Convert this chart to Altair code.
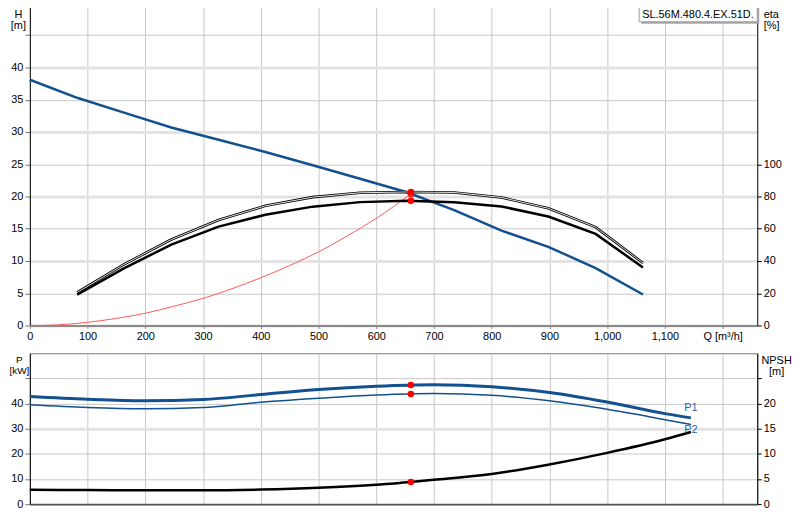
import pandas as pd
import altair as alt

MODEL = "SL.56M.480.4.EX.51D."

# pump curve (Q in m3/h)
q_h = [0, 82, 163, 245, 327, 408, 490, 572, 653, 735, 817, 898, 980, 1062]
head = [38.1, 35.3, 33.0, 30.7, 28.8, 26.9, 24.85, 22.75, 20.65, 17.9, 14.7, 12.2, 8.9, 4.8]

q_eta = [82, 163, 245, 327, 408, 490, 572, 653, 735, 817, 898, 980, 1062]
eta_a = [20.5, 37.9, 53.3, 65.4, 74.2, 79.6, 82.3, 82.8, 82.5, 79.4, 72.7, 61.0, 38.8]
eta_b = [19.1, 35.4, 50.2, 61.3, 68.7, 73.7, 76.5, 77.3, 76.4, 73.8, 67.6, 56.8, 36.0]

# system curve
q_sys = [0, 50, 100, 150, 200, 250, 300, 350, 400, 450, 500, 550, 600, 660]
h_sys = [0, 0.1, 0.5, 1.1, 1.9, 3.0, 4.2, 5.7, 7.4, 9.3, 11.4, 13.9, 16.6, 20.4]

# power and NPSH
q_pow = [0, 100, 200, 300, 400, 500, 600, 700, 800, 900, 1000, 1100, 1145]
p1 = [42.8, 41.7, 41.1, 41.6, 43.6, 45.6, 46.9, 47.5, 46.7, 44.4, 40.6, 36.0, 34.3]
p2 = [39.5, 38.4, 37.9, 38.4, 40.5, 42.1, 43.4, 44.0, 43.3, 41.1, 37.7, 33.6, 31.7]
npsh = [2.85, 2.8, 2.75, 2.75, 2.9, 3.25, 3.85, 4.85, 6.0, 7.9, 10.2, 12.9, 14.35]

# duty point
duty_q = 660
duty_h = 20.4
duty_eta = [82.8, 77.3]
duty_p = [47.4, 43.8]
duty_npsh = 4.4

BLUE = "#12508f"
GRID = "#c8c8c8"
FONT = "Liberation Sans"

x_dom = [0, 1260]
h_dom = [0, 50]
eta_dom = [0, 200]
p_dom = [0, 60]
npsh_dom = [0, 30]

top_w, top_h = 733, 325
bot_h = 152

x_top = alt.X('q:Q', scale=alt.Scale(domain=x_dom, nice=False, zero=False),
              axis=alt.Axis(values=list(range(0, 1201, 100)), title=None,
                            labelExpr="datum.value == 1200 ? 'Q [m³/h]' : format(datum.value, ',')",
                            grid=True, gridColor=GRID, domainColor='#8a8a8a', domainWidth=2,
                            tickColor='#8a8a8a', tickSize=3, labelPadding=2, labelFlush=False))
x_bot = alt.X('q:Q', scale=alt.Scale(domain=x_dom, nice=False, zero=False),
              axis=alt.Axis(values=list(range(0, 1201, 100)), title=None, labels=False, ticks=False,
                            grid=True, gridColor=GRID, domainColor='#555555', domainWidth=2))


def y_axis(field, dom, **kw):
    return alt.Y(field, scale=alt.Scale(domain=dom, nice=False, zero=False), **kw)


title_style = dict(titleAngle=0, titleBaseline='top', titleFontWeight='normal',
                   titleFontSize=11, titleLineHeight=11)

h_axis = alt.Axis(orient='left', values=list(range(0, 50, 5)),
                  labelExpr="datum.value > 40 ? '' : datum.label",
                  grid=True,
                  gridColor={"condition": {"test": "datum.value % 10 == 0", "value": "#e3e3e3"}, "value": GRID},
                  gridWidth={"condition": {"test": "datum.value % 10 == 0", "value": 3}, "value": 1},
                  domainColor='black', tickColor='#777777', tickSize=5, labelPadding=2,
                  title=['H', '[m]'], titleAlign='center', titleX=-12, titleY=6, **title_style)
eta_axis = alt.Axis(orient='right', values=[0, 20, 40, 60, 80, 100], grid=False,
                    domainColor='black', tickColor='black', tickSize=4, labelPadding=2,
                    title=['eta', '[%]'], titleAlign='left', titleX=6, titleY=6, **title_style)

df_h = pd.DataFrame({'q': q_h, 'h': head})
df_eta = pd.DataFrame({'q': q_eta, 'a': eta_a, 'b': eta_b})
df_sys = pd.DataFrame({'q': q_sys, 'h': h_sys})
df_duty_h = pd.DataFrame({'q': [duty_q], 'h': [duty_h]})
df_duty_eta = pd.DataFrame({'q': [duty_q] * len(duty_eta), 'eta': duty_eta})
df_model = pd.DataFrame({'name': [MODEL]})

h_line = alt.Chart(df_h).mark_line(color=BLUE, strokeWidth=2.5).encode(
    x=x_top, y=y_axis('h:Q', h_dom, axis=h_axis))
sys_line = alt.Chart(df_sys).mark_line(color='#ff5a5a', strokeWidth=1, interpolate='monotone').encode(
    x=x_top, y=y_axis('h:Q', h_dom, axis=None))
eta_outer = alt.Chart(df_eta).mark_line(color='black', strokeWidth=2.6).encode(
    x=x_top, y=y_axis('a:Q', eta_dom, axis=eta_axis))
eta_inner = alt.Chart(df_eta).mark_line(color='white', strokeWidth=0.9).encode(
    x=x_top, y=y_axis('a:Q', eta_dom, axis=None))
eta_low = alt.Chart(df_eta).mark_line(color='black', strokeWidth=2.5).encode(
    x=x_top, y=y_axis('b:Q', eta_dom, axis=None))
dot_eta = alt.Chart(df_duty_eta).mark_circle(color='red', size=45, opacity=1).encode(
    x=x_top, y=y_axis('eta:Q', eta_dom, axis=None))
dot_h = alt.Chart(df_duty_h).mark_circle(color='red', size=45, opacity=1).encode(
    x=x_top, y=y_axis('h:Q', h_dom, axis=None))
dot_h_in = alt.Chart(df_duty_h).mark_circle(color='#ffd400', size=12, opacity=1).encode(
    x=x_top, y=y_axis('h:Q', h_dom, axis=None))

box_shadow = alt.Chart(df_model).mark_rect(fill='#a8a8a8').encode(
    x=alt.value(616), x2=alt.value(735), y=alt.value(2), y2=alt.value(21))
box = alt.Chart(df_model).mark_rect(fill='white', stroke='#9a9a9a', strokeWidth=1).encode(
    x=alt.value(614), x2=alt.value(733), y=alt.value(0), y2=alt.value(19))
box_text = alt.Chart(df_model).mark_text(align='left', baseline='middle', fontSize=11, font=FONT).encode(
    x=alt.value(617), y=alt.value(12.5), text='name:N')

top = alt.layer(
    h_line, sys_line, eta_outer, eta_inner, eta_low, dot_h, dot_h_in, dot_eta,
    box_shadow, box, box_text,
    view=alt.ViewBackground(stroke='transparent')
).resolve_scale(y='independent').properties(width=top_w, height=top_h)

# bottom panel
p_axis = alt.Axis(orient='left', values=list(range(0, 60, 10)),
                  labelExpr="datum.value > 40 ? '' : datum.label",
                  grid=True,
                  gridColor={"condition": {"test": "datum.value == 30", "value": "#e3e3e3"}, "value": GRID},
                  gridWidth={"condition": {"test": "datum.value == 30", "value": 3}, "value": 1},
                  domainColor='black', tickColor='#777777', tickSize=5, labelPadding=2,
                  title=['P', '[kW]'], titleAlign='center', titleX=-11, titleY=1,
                  **dict(title_style, titleFontSize=10))
npsh_axis = alt.Axis(orient='right', values=[0, 5, 10, 15, 20, 25],
                     labelExpr="datum.value > 20 ? '' : datum.label", grid=False,
                     domainColor='black', tickColor='black', tickSize=4, labelPadding=2,
                     title=['NPSH', '[m]'], titleAlign='center', titleX=19, titleY=1, **title_style)

df_pow = pd.DataFrame({'q': q_pow, 'p1': p1, 'p2': p2, 'npsh': npsh})
df_ends = pd.DataFrame({'q': [q_pow[-1]], 'p1': [p1[-1]], 'p2': [p2[-1]]})
df_duty_p = pd.DataFrame({'q': [duty_q] * len(duty_p), 'p': duty_p})
df_duty_n = pd.DataFrame({'q': [duty_q], 'npsh': [duty_npsh]})

p1_line = alt.Chart(df_pow).mark_line(color=BLUE, strokeWidth=3, interpolate='monotone').encode(
    x=x_bot, y=y_axis('p1:Q', p_dom, axis=p_axis))
p2_line = alt.Chart(df_pow).mark_line(color=BLUE, strokeWidth=1.5, interpolate='monotone').encode(
    x=x_bot, y=y_axis('p2:Q', p_dom, axis=None))
npsh_line = alt.Chart(df_pow).mark_line(color='black', strokeWidth=2.5, interpolate='monotone').encode(
    x=x_bot, y=y_axis('npsh:Q', npsh_dom, axis=npsh_axis))
p1_lab = alt.Chart(df_ends).mark_text(text='P1', color='#2a64a8', fontSize=11, font=FONT, dy=-10).encode(
    x=x_bot, y=y_axis('p1:Q', p_dom, axis=None))
p2_lab = alt.Chart(df_ends).mark_text(text='P2', color='#2a64a8', fontSize=11, font=FONT, dy=6).encode(
    x=x_bot, y=y_axis('p2:Q', p_dom, axis=None))
dot_p = alt.Chart(df_duty_p).mark_circle(color='red', size=45, opacity=1).encode(
    x=x_bot, y=y_axis('p:Q', p_dom, axis=None))
dot_n = alt.Chart(df_duty_n).mark_circle(color='red', size=45, opacity=1).encode(
    x=x_bot, y=y_axis('npsh:Q', npsh_dom, axis=None))

bottom = alt.layer(
    p2_line, p1_line, npsh_line, p1_lab, p2_lab, dot_p, dot_n,
    view=alt.ViewBackground(stroke='#777777')
).resolve_scale(y='independent').properties(width=top_w, height=bot_h)

chart = alt.vconcat(
    top, bottom, spacing=10,
    padding={"left": 0, "top": -8, "right": 0, "bottom": 0}
).configure(
    font=FONT
).configure_axis(
    labelFont=FONT, labelFontSize=11, labelColor='black', titleFont=FONT, titleColor='black'
)

chart.save("out.html", embed_options={"renderer": "svg", "actions": False})
